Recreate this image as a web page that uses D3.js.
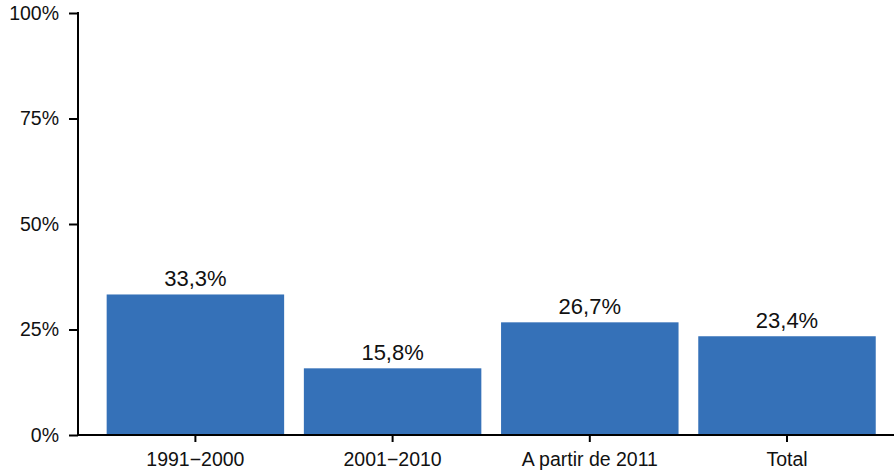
<!DOCTYPE html>
<html>
<head>
<meta charset="utf-8">
<script src="https://cdn.jsdelivr.net/npm/d3@7"></script>
<style>
body{margin:0;background:#fff;}
text{font-family:"Liberation Sans",Arial,sans-serif;}
</style>
</head>
<body>
<svg id="chart" width="894" height="473"></svg>
<script>
const categories = ["1991\u22122000", "2001\u22122010", "A partir de 2011", "Total"];
const values = [33.3, 15.8, 26.7, 23.4];
const valueLabels = ["33,3%", "15,8%", "26,7%", "23,4%"];
const yTicks = [0, 25, 50, 75, 100];
const yTickLabels = ["0%", "25%", "50%", "75%", "100%"];

(function () {
const svg = d3.select("#chart");
const axisX = 78, plotTop = 13, plotBottom = 435, plotRight = 894;

const x = d3.scaleBand().domain(categories).range([96.8, 885.6]).paddingInner(0.1).paddingOuter(0.05);
const y = d3.scaleLinear().domain([0, 100]).range([plotBottom, plotTop]);

svg.selectAll("rect.bar").data(values).enter().append("rect")
  .attr("class", "bar")
  .attr("x", (d, i) => x(categories[i]))
  .attr("width", x.bandwidth())
  .attr("y", d => y(d))
  .attr("height", d => y(0) - y(d))
  .attr("fill", "#3571b8");

svg.selectAll("text.vl").data(values).enter().append("text")
  .attr("class", "vl")
  .attr("x", (d, i) => x(categories[i]) + x.bandwidth() / 2)
  .attr("y", d => y(d) - 8)
  .attr("text-anchor", "middle")
  .attr("font-size", 22)
  .attr("fill", "#111")
  .text((d, i) => valueLabels[i]);

// y axis
const yAxis = d3.axisLeft(y).tickValues(yTicks).tickFormat((d, i) => yTickLabels[i]).tickSize(9).tickPadding(10);
const gy = svg.append("g").attr("transform", `translate(${axisX},0)`).call(yAxis);
gy.selectAll("path, line").attr("stroke", "#000").attr("stroke-width", 2);
gy.select(".domain").remove();
gy.append("line").attr("x1", 0).attr("x2", 0).attr("y1", y(100) - 1).attr("y2", y(0) + 1).attr("stroke", "#000").attr("stroke-width", 2);
gy.selectAll("text").attr("font-size", 19.5).attr("fill", "#111").attr("font-family", "Liberation Sans, Arial, sans-serif");

// x axis
const xAxis = d3.axisBottom(x).tickSize(7).tickPadding(10);
const gx = svg.append("g").attr("transform", `translate(0,${plotBottom})`).call(xAxis);
gx.select(".domain").remove();
gx.selectAll("line").attr("stroke", "#000").attr("stroke-width", 2);
gx.append("line").attr("x1", axisX - 1).attr("x2", plotRight).attr("y1", 0).attr("y2", 0).attr("stroke", "#000").attr("stroke-width", 2);
gx.selectAll("text").attr("font-size", 19.5).attr("fill", "#111").attr("font-family", "Liberation Sans, Arial, sans-serif");
})();
</script>
</body>
</html>
